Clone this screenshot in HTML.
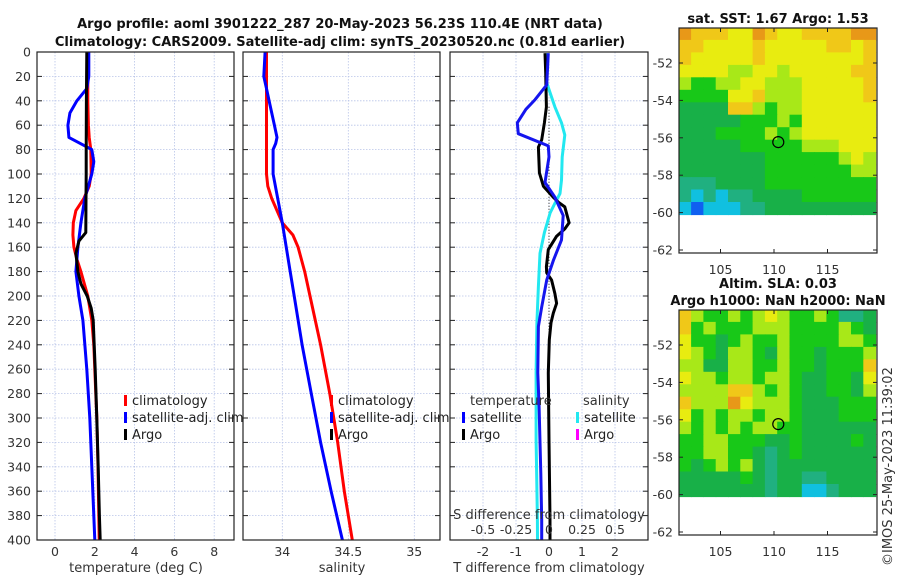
<!DOCTYPE html>
<html><head><meta charset="utf-8">
<style>
html,body{margin:0;padding:0;background:#fff;}
svg{display:block;font-family:"DejaVu Sans","Liberation Sans",sans-serif;}
.tk{font-size:12.5px;fill:#333;}
.ttl{font-size:13px;font-weight:bold;fill:#111;}
.lg{font-size:13px;fill:#222;}
</style></head>
<body>
<svg id="c" width="900" height="580" viewBox="0 0 900 580" xmlns="http://www.w3.org/2000/svg">
<text class="ttl" x="340" y="28" text-anchor="middle">Argo profile: aoml 3901222_287 20-May-2023 56.23S 110.4E (NRT data)</text>
<text class="ttl" x="340" y="46" text-anchor="middle">Climatology: CARS2009. Satellite-adj clim: synTS_20230520.nc (0.81d earlier)</text>
<text class="ttl" x="778" y="23" text-anchor="middle">sat. SST: 1.67 Argo: 1.53</text>
<text class="ttl" x="778" y="288" text-anchor="middle">Altim. SLA: 0.03</text>
<text class="ttl" x="778" y="305" text-anchor="middle">Argo h1000: NaN h2000: NaN</text>
<text class="tk" transform="translate(892,566) rotate(-90)" style="font-size:13px">©IMOS 25-May-2023 11:39:02</text>
<g id="g"></g>
</svg>
<script>
// ---------- data ----------
const depthTicks=[0,20,40,60,80,100,120,140,160,180,200,220,240,260,280,300,320,340,360,380,400];
const tTicks=[0,2,4,6,8];
const sTicks=[34,34.5,35];
const dTicks=[-2,-1,0,1,2];
const dsTicks=[-0.5,-0.25,0,0.25,0.5];
const dsLabels=["-0.5","-0.25","0","0.25","0.5"];
// temperature profiles
const climTDepth=[0,20,40,60,70,80,100,110,120,130,140,150,160,170,180,200,220,240,260,280,300,320,340,360,380,400];
const climT=[1.65,1.65,1.65,1.68,1.72,1.8,1.82,1.72,1.45,1.05,0.92,0.9,0.95,1.1,1.3,1.65,1.85,1.95,2.0,2.05,2.1,2.13,2.16,2.18,2.2,2.22];
const satTDepth=[0,20,30,40,50,60,70,80,90,100,120,140,160,180,200,220,260,300,340,380,400];
const satT=[1.7,1.7,1.6,1.1,0.75,0.65,0.7,1.85,1.95,1.85,1.5,1.3,1.15,1.05,1.2,1.4,1.6,1.75,1.85,1.95,2.0];
const argoTDepth=[0,40,80,100,120,148,155,165,180,190,200,210,220,260,300,340,380,400];
const argoT=[1.6,1.58,1.57,1.57,1.56,1.55,1.2,1.05,1.15,1.3,1.62,1.82,1.92,2.02,2.1,2.17,2.23,2.27];
// salinity profiles
const climSDepth=[0,100,110,120,140,150,160,180,200,240,280,320,360,400];
const climS=[33.88,33.88,33.89,33.92,34.0,34.08,34.12,34.17,34.21,34.29,34.36,34.42,34.47,34.53];
const satSDepth=[0,20,30,40,60,70,75,80,100,140,180,200,240,280,320,360,400];
const satS=[33.87,33.86,33.88,33.9,33.94,33.96,33.95,33.93,33.93,34.0,34.06,34.09,34.15,34.22,34.29,34.37,34.455];
// differences
const satDTDepth=[1,27,39,47,58,67,77,86,107,119,134,154,171,187,209,225,263,291,345,384,400];
const satDT=[-0.02,-0.07,-0.42,-0.7,-0.96,-0.93,-0.02,0,-0.12,0.18,0.43,0.38,0.13,-0.07,-0.22,-0.32,-0.34,-0.3,-0.25,-0.22,-0.22];
const argoDTDepth=[1,17,45,58,72,78,99,110,119,123,127,140,145,151,162,176,181,187,198,206,214,222,236,263,318,383,400];
const argoDT=[-0.12,-0.1,-0.08,-0.14,-0.22,-0.32,-0.29,-0.17,0.13,0.28,0.48,0.61,0.48,0.23,-0.02,-0.08,-0.07,0.08,0.18,0.23,0.13,0.06,0.01,-0.02,0,0.03,0.03];
const satDSDepth=[1,25,45,58,68,86,105,116,124,132,148,165,192,222,263,318,383,400];
const satDS=[-0.012,-0.018,0.045,0.095,0.12,0.1,0.095,0.083,0.045,0.008,-0.035,-0.068,-0.08,-0.092,-0.098,-0.098,-0.088,-0.087];
// maps (colour class 1..9)
const sstGrid=[
[9,8,8,8,7,7,9,8,7,7,8,8,8,8,9,9],
[8,8,7,7,7,7,8,7,7,7,7,7,8,8,7,8],
[8,7,7,7,7,7,8,7,7,7,7,7,7,7,7,8],
[7,7,7,7,6,6,7,7,6,7,7,7,7,7,8,8],
[6,5,5,6,6,7,7,6,6,6,7,7,7,7,7,8],
[5,5,5,5,7,7,8,6,6,6,7,7,7,7,7,8],
[4,4,4,4,8,8,6,5,6,6,7,7,7,7,7,7],
[4,4,4,4,4,5,5,5,6,5,7,7,7,7,7,7],
[4,4,4,5,5,5,5,6,5,6,7,7,7,7,7,7],
[4,4,4,4,4,5,5,5,5,5,6,6,6,7,7,7],
[4,4,4,4,4,4,4,5,5,5,5,5,5,6,7,6],
[4,4,4,4,4,4,4,5,5,5,5,5,5,5,6,6],
[3,3,3,4,4,4,4,5,5,5,5,5,5,5,5,5],
[3,2,3,2,3,3,4,4,4,4,5,5,5,5,5,5],
[2,1,2,2,2,3,3,4,4,4,4,4,4,4,4,4]];
const slaGrid=[
[8,6,5,5,6,5,6,7,6,5,5,6,5,3,3,4],
[8,5,6,5,5,5,6,6,6,5,5,5,5,6,5,4],
[7,5,5,4,5,6,5,5,6,5,5,5,5,6,6,5],
[7,6,5,4,6,6,5,4,6,5,5,4,5,5,5,6],
[6,6,4,4,6,6,5,5,6,5,5,4,5,5,5,8],
[7,6,6,5,6,6,5,6,6,5,4,4,5,5,4,7],
[6,6,6,6,8,8,6,5,6,5,4,4,5,5,4,6],
[8,6,6,6,9,7,6,6,6,5,4,4,4,5,5,5],
[7,5,6,5,6,6,5,6,6,5,4,4,4,5,5,5],
[6,5,6,5,6,5,6,6,5,5,4,4,4,4,4,4],
[5,5,6,6,5,5,5,4,4,5,4,4,4,4,5,4],
[5,5,6,6,5,5,4,3,4,5,4,4,4,4,4,4],
[5,4,5,6,5,6,4,3,4,4,4,4,4,4,4,4],
[4,4,4,4,4,5,4,3,4,4,3,3,4,4,4,4],
[4,4,4,4,4,4,4,3,4,4,2,2,3,4,4,4]];
const latTicks=[-52,-54,-56,-58,-60,-62];
const lonTicks=[105,110,115];
const argoLon=110.4, argoLat=-56.23;
const palette=["#fff","#1060f0","#10c0e0","#20b080","#18b048","#18c818","#a8e818","#e8ec10","#f0c818","#e89818"];

// ---------- helpers ----------
const NS="http://www.w3.org/2000/svg";
const G=document.getElementById('g');
function mk(tag,at,parent){const e=document.createElementNS(NS,tag);for(const k in at)e.setAttribute(k,at[k]);(parent||G).appendChild(e);return e;}
const Y0=52,Y1=540;
function yD(d){return Y0+(d/400)*(Y1-Y0);}
function lin(v0,v1,p0,p1){return v=>p0+(v-v0)/(v1-v0)*(p1-p0);}

const P1={x0:37,x1:234,sx:lin(0,2,55,94.8)};
const P2={x0:243,x1:440,sx:lin(34,34.5,282.3,348.3)};
const P3={x0:450,x1:648,sx:lin(0,1,549,582)};
const sxS=v=>P3.sx(v*4);

function frame(P,name,xt,xl){
  for(const d of depthTicks){
    const l=mk('line',{x1:P.x0,x2:P.x1,y1:yD(d),y2:yD(d),stroke:'#b8c4e8','stroke-width':0.8,'stroke-dasharray':'1.5,1.5'});
    
    
  }
  xt.forEach((v,i)=>{
    const x=P.sx(v);
    const l=mk('line',{x1:x,x2:x,y1:Y0,y2:Y1,stroke:'#b8c4e8','stroke-width':0.8,'stroke-dasharray':'1.5,1.5'});
    
    
    const t=mk('text',{x:x,y:556,'text-anchor':'middle','class':'tk'});
    t.textContent=xl[i];
    
    
  });
}
function border(P,name){
  for(const d of depthTicks){
    mk('line',{x1:P.x0,x2:P.x0+5,y1:yD(d),y2:yD(d),stroke:'#222'});
    mk('line',{x1:P.x1-5,x2:P.x1,y1:yD(d),y2:yD(d),stroke:'#222'});
  }
  const r=mk('rect',{x:P.x0,y:Y0,width:P.x1-P.x0,height:Y1-Y0,fill:'none',stroke:'#222','stroke-width':1.2});
  
  
}
function line(P,sx,xs,ds,color,name){
  const pts=xs.map((v,i)=>sx(v).toFixed(1)+','+yD(ds[i]).toFixed(1)).join(' ');
  const l=mk('polyline',{points:pts,fill:'none',stroke:color,'stroke-width':3,'stroke-linejoin':'round'});
  
  
}
function legend(x,y,color,label,name){
  mk('rect',{x:x,y:y-10,width:3,height:11,fill:color});
  const t=mk('text',{x:x+8,y:y,'class':'lg'});
  t.textContent=label;
  
  
}
function label(x,y,txt,name,anchor){
  const t=mk('text',{x:x,y:y,'class':'tk','text-anchor':anchor||'middle',style:'font-size:13px'});
  t.textContent=txt;
  
  
}

// panel 1
frame(P1,'temp-panel',tTicks,tTicks.map(String));
for(const d of depthTicks){
  const t=mk('text',{x:31,y:yD(d)+4.5,'text-anchor':'end','class':'tk'});
  t.textContent=d;
  
  
}
line(P1,P1.sx,climT,climTDepth,'#f00','temp-climatology-line');
line(P1,P1.sx,satT,satTDepth,'#00f','temp-satellite-line');
line(P1,P1.sx,argoT,argoTDepth,'#000','temp-argo-line');
border(P1,'temp-panel');
legend(124,405,'#f00','climatology','legend-climatology');
legend(124,422,'#00f','satellite-adj. clim','legend-satellite');
legend(124,439,'#000','Argo','legend-argo');
label(136,572,'temperature (deg C)','temp-x-axis-title');

// panel 2
frame(P2,'sal-panel',sTicks,["34","34.5","35"]);
line(P2,P2.sx,climS,climSDepth,'#f00','sal-climatology-line');
line(P2,P2.sx,satS,satSDepth,'#00f','sal-satellite-line');
border(P2,'sal-panel');
legend(330,405,'#f00','climatology','legend-sal-climatology');
legend(330,422,'#00f','satellite-adj. clim','legend-sal-satellite');
legend(330,439,'#000','Argo','legend-sal-argo');
label(342,572,'salinity','sal-x-axis-title');

// panel 3
frame(P3,'diff-panel',dTicks,dTicks.map(String));
mk('line',{x1:P3.sx(0),x2:P3.sx(0),y1:yD(45),y2:Y1,stroke:'#333','stroke-width':1,'stroke-dasharray':'1,2'});
line(P3,sxS,satDS,satDSDepth,'#22e8f0','sal-diff-satellite-line');
line(P3,P3.sx,argoDT,argoDTDepth,'#000','temp-diff-argo-line');
line(P3,P3.sx,satDT,satDTDepth,'#1515ee','temp-diff-satellite-line');
border(P3,'diff-panel');
label(470,405,'temperature','legend-temperature-heading','start');
legend(462,422,'#00f','satellite','legend-t-satellite');
legend(462,439,'#000','Argo','legend-t-argo');
label(583,405,'salinity','legend-salinity-heading','start');
legend(576,422,'#22e8f0','satellite','legend-s-satellite');
legend(576,439,'#f0f','Argo','legend-s-argo');
label(549,519,'S difference from climatology','s-diff-axis-title');
dsTicks.forEach((v,i)=>{const t=mk('text',{x:sxS(v),y:534,'text-anchor':'middle','class':'tk'});t.textContent=dsLabels[i];

});
label(549,572,'T difference from climatology','t-diff-axis-title');

// maps
function map(top,grid,name){
  const M={x0:679,x1:877,y0:top,y1:top+225};
  const lonX=lin(110,115,774,827.5);
  const latY=lin(-52,-54,top+35,top+72.4);
  const lon0=101.1,lon1=119.5,lat0=-50.1,lat1=-60.1;
  const rows=grid.length,cols=grid[0].length;
  const cw=(lon1-lon0)/cols,ch=(lat0-lat1)/rows;
  grid.forEach((row,r)=>row.forEach((v,c)=>{
    const x=lonX(lon0+c*cw),y=latY(lat0-r*ch);
    const e=mk('rect',{x:x.toFixed(1),y:y.toFixed(1),width:(lonX(lon0+(c+1)*cw)-x+0.6).toFixed(1),height:(latY(lat0-(r+1)*ch)-y+0.6).toFixed(1),fill:palette[v]});
    
    
  }));
  const cir=mk('circle',{cx:lonX(argoLon),cy:latY(argoLat),r:5.5,fill:'none',stroke:'#000','stroke-width':1.2});
  
  
  for(const la of latTicks){
    const y=latY(la);
    mk('line',{x1:M.x0,x2:M.x0+4,y1:y,y2:y,stroke:'#222'});
    mk('line',{x1:M.x1-4,x2:M.x1,y1:y,y2:y,stroke:'#222'});
    const t=mk('text',{x:673,y:y+4.5,'text-anchor':'end','class':'tk'});t.textContent=la;
    
    
  }
  for(const lo of lonTicks){
    const x=lonX(lo);
    mk('line',{x1:x,x2:x,y1:M.y1-4,y2:M.y1,stroke:'#222'});
    mk('line',{x1:x,x2:x,y1:M.y0,y2:M.y0+4,stroke:'#222'});
    const t=mk('text',{x:x,y:M.y1+21,'text-anchor':'middle','class':'tk'});t.textContent=lo;
    
    
  }
  const r=mk('rect',{x:M.x0,y:M.y0,width:M.x1-M.x0,height:M.y1-M.y0,fill:'none',stroke:'#222','stroke-width':1.2});
  
  
}
map(28,sstGrid,'sst-map');
map(310,slaGrid,'sla-map');
</script>
</body></html>
